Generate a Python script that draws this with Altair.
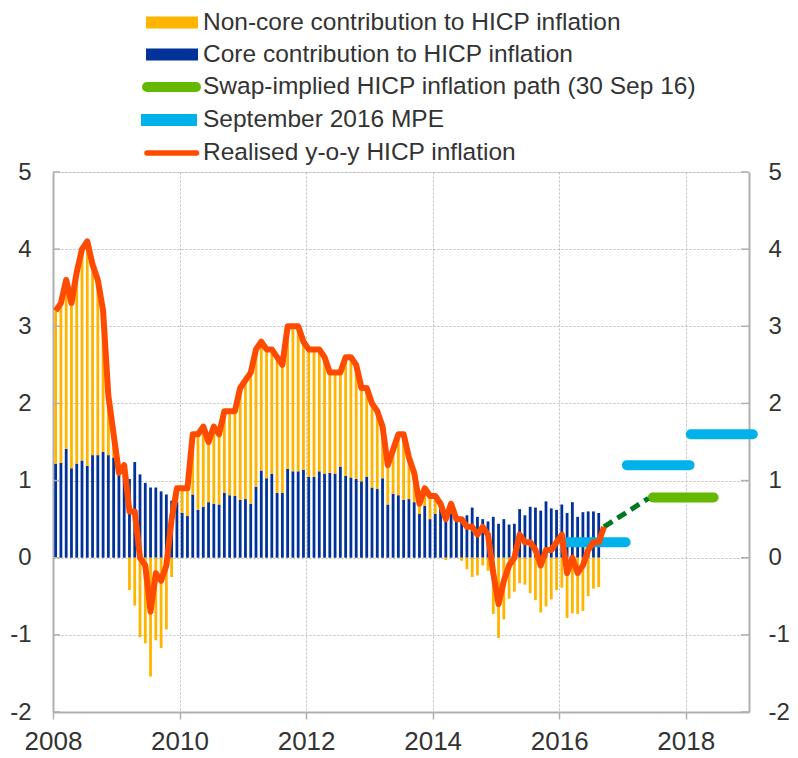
import altair as alt
import pandas as pd

FONT = "Liberation Sans"
YELLOW = "#FFB400"
NAVY = "#003299"
GREEN = "#65B800"
DKGREEN = "#00781E"
CYAN = "#00B1EA"
ORANGE = "#FF4B00"
AXIS = "#B0B0B0"
GRID = "#BDBDBD"
TEXT = "#333333"

# Realised y-o-y HICP inflation, Jan 2008 - Sep 2016
hicp = [
    3.2, 3.3, 3.6, 3.3, 3.7, 4.0, 4.1, 3.8, 3.6, 3.2, 2.1, 1.6,
    1.1, 1.2, 0.6, 0.6, 0.0, -0.1, -0.7, -0.2, -0.3, -0.1, 0.5, 0.9,
    0.9, 0.9, 1.6, 1.6, 1.7, 1.5, 1.7, 1.6, 1.9, 1.9, 1.9, 2.2,
    2.3, 2.4, 2.7, 2.8, 2.7, 2.7, 2.6, 2.5, 3.0, 3.0, 3.0, 2.8,
    2.7, 2.7, 2.7, 2.6, 2.4, 2.4, 2.4, 2.6, 2.6, 2.5, 2.2, 2.2,
    2.0, 1.9, 1.7, 1.2, 1.4, 1.6, 1.6, 1.3, 1.1, 0.7, 0.9, 0.8,
    0.8, 0.7, 0.5, 0.7, 0.5, 0.5, 0.4, 0.4, 0.3, 0.4, 0.3, -0.2,
    -0.6, -0.3, -0.1, 0.0, 0.3, 0.2, 0.2, 0.1, -0.1, 0.1, 0.1, 0.2,
    0.3, -0.2, 0.0, -0.2, -0.1, 0.1, 0.2, 0.2, 0.4,
]

# Core contribution, Jan 2008 - Aug 2016
core = [
    1.22, 1.23, 1.41, 1.16, 1.22, 1.26, 1.19, 1.33, 1.33, 1.37, 1.33, 1.30,
    1.10, 1.15, 1.02, 1.24, 1.08, 0.97, 0.91, 0.91, 0.86, 0.82, 0.74, 0.72,
    0.58, 0.54, 0.82, 0.62, 0.66, 0.72, 0.70, 0.69, 0.84, 0.81, 0.80, 0.75,
    0.76, 0.70, 0.92, 1.13, 1.03, 1.09, 0.84, 0.84, 1.15, 1.12, 1.12, 1.14,
    1.05, 1.05, 1.12, 1.09, 1.10, 1.09, 1.18, 1.06, 1.04, 1.02, 0.99, 1.05,
    0.91, 0.89, 1.03, 0.69, 0.83, 0.81, 0.75, 0.76, 0.72, 0.57, 0.67, 0.50,
    0.57, 0.66, 0.50, 0.62, 0.50, 0.48, 0.55, 0.65, 0.53, 0.50, 0.47, 0.53,
    0.44, 0.50, 0.43, 0.44, 0.63, 0.55, 0.66, 0.65, 0.61, 0.73, 0.64, 0.62,
    0.69, 0.58, 0.72, 0.53, 0.59, 0.60, 0.60, 0.58,
]

# Non-core contribution, Jan 2008 - Aug 2016
noncore = [
    1.98, 2.07, 2.19, 2.14, 2.48, 2.74, 2.91, 2.47, 2.27, 1.83, 0.77, 0.30,
    0.02, 0.05, -0.42, -0.62, -1.03, -1.11, -1.54, -1.07, -1.17, -0.93, -0.25, 0.18,
    0.32, 0.36, 0.78, 0.98, 1.04, 0.78, 1.00, 0.91, 1.06, 1.09, 1.10, 1.45,
    1.54, 1.70, 1.78, 1.67, 1.67, 1.61, 1.76, 1.66, 1.85, 1.88, 1.88, 1.66,
    1.65, 1.65, 1.58, 1.51, 1.30, 1.31, 1.22, 1.54, 1.56, 1.48, 1.21, 1.15,
    1.09, 1.01, 0.67, 0.51, 0.57, 0.79, 0.85, 0.54, 0.38, 0.13, 0.23, 0.30,
    0.23, 0.04, -0.03, 0.08, 0.00, -0.04, -0.15, -0.25, -0.23, -0.10, -0.17, -0.73,
    -1.04, -0.80, -0.53, -0.44, -0.33, -0.35, -0.46, -0.55, -0.71, -0.63, -0.54, -0.42,
    -0.39, -0.78, -0.72, -0.73, -0.69, -0.50, -0.40, -0.38,
]

# Swap-implied HICP inflation path (30 Sep 16)
swap_path_t = [2016.708, 2017.41]
swap_path_v = [0.40, 0.77]
swap_bar_start = [2017.48]
swap_bar_end = [2018.44]
swap_bar_v = [0.78]

# September 2016 MPE (annual averages)
mpe_start = [2016.08, 2017.07, 2018.08]
mpe_end = [2017.05, 2018.06, 2019.06]
mpe_v = [0.2, 1.2, 1.6]

x_ticks = [2008, 2010, 2012, 2014, 2016, 2018]
y_ticks = [-2, -1, 0, 1, 2, 3, 4, 5]

legend_labels = [
    "Non-core contribution to HICP inflation",
    "Core contribution to HICP inflation",
    "Swap-implied HICP inflation path (30 Sep 16)",
    "September 2016 MPE",
    "Realised y-o-y HICP inflation",
]

# month mid-points as decimal years
month_t = [y + (m - 0.5) / 12 for y in range(2008, 2017) for m in range(1, 13)]

bars = pd.DataFrame(
    [{"t": month_t[i], "comp": "core", "ord": 0, "val": core[i]} for i in range(len(core))]
    + [{"t": month_t[i], "comp": "noncore", "ord": 1, "val": noncore[i]} for i in range(len(noncore))]
)
line_df = pd.DataFrame({"t": month_t[: len(hicp)], "v": hicp})
swap_df = pd.DataFrame({"t": swap_path_t, "v": swap_path_v})
swapbar_df = pd.DataFrame({"t": swap_bar_start, "t2": swap_bar_end, "v": swap_bar_v})
mpe_df = pd.DataFrame({"t": mpe_start, "t2": mpe_end, "v": mpe_v})
tick_df = pd.DataFrame({"v": y_ticks})

W, H = 696, 540
xscale = alt.Scale(domain=[2008, 2019], nice=False, zero=False, padding=0)
yscale = alt.Scale(domain=[-2, 5], nice=False, zero=False, padding=0)

x_axis = alt.Axis(
    values=x_ticks, format="d", title="", orient="bottom", grid=True, gridDash=[2, 2], gridColor=GRID,
    domainColor=AXIS, domainWidth=2, tickColor=AXIS, tickWidth=1.5, tickSize=7,
    labelFont=FONT, labelFontSize=26, labelColor=TEXT, labelPadding=9, labelFlush=False,
)
left_axis = alt.Axis(
    values=y_ticks, title="", orient="left", grid=True, gridDash=[2, 2], gridColor=GRID,
    domainColor=AXIS, domainWidth=2, ticks=False, labelFont=FONT, labelFontSize=24,
    labelColor=TEXT, labelPadding=22, labelExpr="'' + datum.value",
)
right_axis = alt.Axis(
    values=y_ticks, title="", orient="right", grid=False,
    domainColor=AXIS, domainWidth=2, ticks=False, labelFont=FONT, labelFontSize=24,
    labelColor=TEXT, labelPadding=19, labelAlign="left", labelExpr="'' + datum.value",
)

X = alt.X("t:Q", scale=xscale, axis=x_axis)

bar_layer = alt.Chart(bars).mark_bar(size=2.8).encode(
    x=X,
    y=alt.Y("val:Q", stack="zero", scale=yscale, axis=left_axis),
    color=alt.Color("comp:N", scale=alt.Scale(domain=["core", "noncore"], range=[NAVY, YELLOW]), legend=None),
    order=alt.Order("ord:Q"),
)

mpe_layer = alt.Chart(mpe_df).mark_rule(color=CYAN, strokeWidth=10, strokeCap="round").encode(
    x=X, x2="t2:Q", y=alt.Y("v:Q", scale=yscale, axis=None)
)
swapbar_layer = alt.Chart(swapbar_df).mark_rule(color=GREEN, strokeWidth=10, strokeCap="round").encode(
    x=X, x2="t2:Q", y=alt.Y("v:Q", scale=yscale, axis=None)
)
swap_layer = alt.Chart(swap_df).mark_line(color=DKGREEN, strokeWidth=5, strokeDash=[10, 6]).encode(
    x=X, y=alt.Y("v:Q", scale=yscale, axis=None)
)
line_layer = alt.Chart(line_df).mark_line(color=ORANGE, strokeWidth=6, strokeJoin="round").encode(
    x=X, y=alt.Y("v:Q", scale=yscale, axis=right_axis)
)
lticks = alt.Chart(tick_df).mark_rule(color=AXIS, strokeWidth=1.5).encode(
    y=alt.Y("v:Q", scale=yscale, axis=None), x=alt.value(0), x2=alt.value(7)
)
rticks = alt.Chart(tick_df).mark_rule(color=AXIS, strokeWidth=1.5).encode(
    y=alt.Y("v:Q", scale=yscale, axis=None), x=alt.value(W - 8), x2=alt.value(W)
)

# legend (above the plot)
row_y = [-149.5, -117.5, -85, -52, -19]
sw_colors = [YELLOW, NAVY, GREEN, CYAN, ORANGE]
sw_width = [12, 12, 10, 12, 5.5]
sw_cap = ["butt", "butt", "round", "butt", "round"]
sw_x = [(93, 145), (93, 145), (94, 143), (88, 144), (94, 143.5)]
one = pd.DataFrame({"k": [0]})
legend_layers = []
for i, lab in enumerate(legend_labels):
    legend_layers.append(
        alt.Chart(one).mark_rule(color=sw_colors[i], strokeWidth=sw_width[i], strokeCap=sw_cap[i]).encode(
            x=alt.value(sw_x[i][0]), x2=alt.value(sw_x[i][1]), y=alt.value(row_y[i])
        )
    )
    legend_layers.append(
        alt.Chart(pd.DataFrame({"label": [lab]})).mark_text(
            align="left", baseline="middle", font=FONT, fontSize=24.5, color=TEXT
        ).encode(x=alt.value(150), y=alt.value(row_y[i]), text="label:N")
    )

chart = alt.layer(
    bar_layer, lticks, rticks, mpe_layer, swapbar_layer, swap_layer, line_layer, *legend_layers
).resolve_axis(y="independent").properties(
    width=W, height=H,
    padding={"left": 45, "top": 164, "right": 41, "bottom": 42},
    autosize=alt.AutoSizeParams(type="none"),
).configure_view(stroke=None).configure(background="white")

chart.save("out.html", embed_options={"renderer": "svg", "actions": False})
